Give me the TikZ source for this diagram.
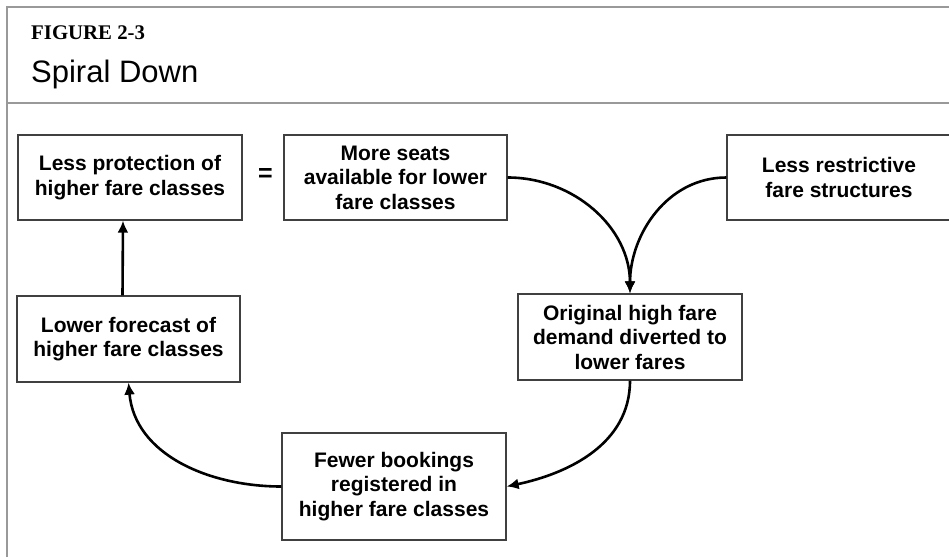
\documentclass[tikz,border=0pt]{standalone}
\usepackage{fontspec}
\setmainfont{Liberation Serif}
\setsansfont{Liberation Sans}
\usetikzlibrary{arrows.meta}

\tikzset{box/.style={draw=black!75,line width=1.3pt,minimum width=224pt,minimum height=85pt,inner sep=2pt,align=center,font=\sffamily\bfseries\fontsize{21}{24.5}\selectfont},
  flow/.style={->,line width=2.6pt},
  frame/.style={draw=black!40,line width=1.5pt}}

\begin{document}
\begin{tikzpicture}[x=1pt,y=-1pt,>={Latex[length=12pt,width=11pt]}]
\useasboundingbox (0,0) rectangle (949,557);
% frame and heading
\draw [frame] (7,557) -- (7,7) -- (949,7);
\draw [frame] (7,103) -- (949,103);
\draw node [anchor=base west,inner sep=0pt,font=\rmfamily\bfseries\fontsize{20.8}{23}\selectfont] (fignum) at (31,39.5) {FIGURE 2-3};
\draw node [anchor=base west,inner sep=0pt,font=\sffamily\fontsize{31}{34}\selectfont] (figtitle) at (31,82) {Spiral Down};
% boxes
\draw node [box] (lessprot) at (130,177.5) {Less protection of\\higher fare classes};
\draw node [box,minimum width=223pt] (moreseats) at (395.5,177.5) {More seats\\available for lower\\fare classes};
\draw node [box] (lessrestr) at (839,177.5) {Less restrictive\\fare structures};
\draw node [box,minimum height=86pt] (orig) at (630,337) {Original high fare\\demand diverted to\\lower fares};
\draw node [box,minimum width=223pt,minimum height=86pt] (lowfc) at (128.5,339) {Lower forecast of\\higher fare classes};
\draw node [box,minimum height=107pt] (fewer) at (394,486.5) {Fewer bookings\\registered in\\higher fare classes};
\draw node [inner sep=0pt,font=\sffamily\bfseries\fontsize{25}{28}\selectfont] (equal) at (265.5,175) {=};
% arrows
\draw [flow] ([xshift=-6pt]lowfc.north) -- ([xshift=-7pt]lessprot.south);
\draw [flow] (moreseats.east) to [out=0,in=90] (orig.north);
\draw [flow] (lessrestr.west) to [out=180,in=90] (orig.north);
\draw [flow] (orig.south) to [out=-90,in=12] (fewer.east);
\draw [flow] (fewer.west) to [out=180,in=-85] (lowfc.south);
\end{tikzpicture}
\end{document}
